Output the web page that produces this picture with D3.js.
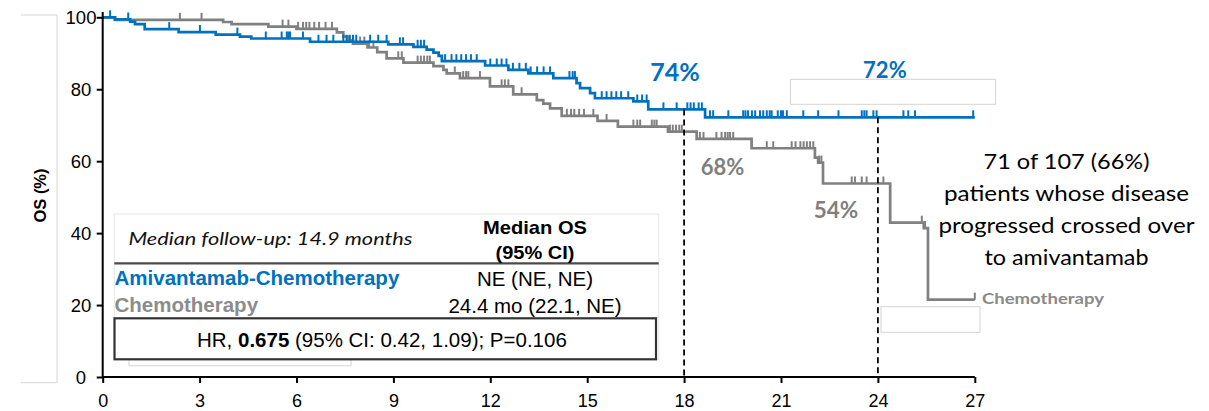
<!DOCTYPE html>
<html>
<head>
<meta charset="utf-8">
<script src="https://cdn.jsdelivr.net/npm/d3@7"></script>
<style>
  html, body { margin: 0; padding: 0; background: #ffffff; }
  svg { display: block; }
</style>
</head>
<body>
<svg id="chart" width="1209" height="411"></svg>
<script>
// ---- Axis ticks ----
const monthTicks = [0, 3, 6, 9, 12, 15, 18, 21, 24, 27];
const osTicks = [0, 20, 40, 60, 80, 100];
const maxMonth = 27;

// ---- Amivantamab-Chemotherapy: KM step times (months) and survival (%) after each step ----
const amiTimes = [0, 0.38, 0.85, 1.0, 1.3, 2.35, 3.5, 4.25, 4.6, 6.42, 8.84, 9.62, 10.03, 10.24, 10.4, 10.5,
  11.84, 12.56, 13.18, 13.95, 14.67, 14.78, 15.09, 15.24, 16.43, 16.89, 18.65];
const amiSurv = [100, 99.4, 98.8, 98.1, 96.7, 95.9, 95.2, 94.6, 94.1, 93.2, 92.5, 91.8, 91.0, 90.2, 89.3, 87.8,
  86.6, 85.4, 84.4, 83.1, 81.7, 80.3, 78.9, 77.5, 76.6, 74.4, 72.2];
// censored patients (months)
const amiCensor = [0.23, 0.79, 2.06, 3.01, 4.17, 5.05, 5.54, 5.7, 5.75, 5.8, 6.2, 6.68, 6.93, 7.14, 7.45, 7.55,
  7.65, 7.75, 7.85, 8.28, 8.53, 8.79, 9.2, 9.3, 9.75, 9.85, 9.95, 10.6, 10.8, 10.95, 11.1, 11.25, 11.4, 11.58,
  12.0, 12.2, 12.35, 12.5, 12.7, 12.9, 13.1, 13.25, 13.45, 13.65, 13.85, 14.45, 14.55, 14.62, 15.45, 15.6,
  15.75, 15.9, 16.05, 16.27, 16.55, 16.7, 16.84, 17.36, 17.77, 18.1, 18.2, 18.3, 18.45, 18.55, 18.8, 18.9,
  19.37, 19.83, 19.9, 19.98, 20.1, 20.2, 20.35, 20.45, 20.56, 20.65, 20.71, 20.9, 21.0, 21.06, 21.18, 21.69,
  22.15, 22.78, 23.5, 23.58, 23.65, 23.86, 23.96, 24.79, 24.94, 25.15, 26.95];

// ---- Chemotherapy ----
const chemoTimes = [0, 0.38, 3.73, 3.99, 5.13, 6.0, 7.25, 7.45, 7.6, 7.75, 8.2, 8.5, 8.79, 9.31, 10.24, 10.55,
  10.65, 11.06, 11.99, 12.71, 13.44, 13.64, 13.85, 14.21, 15.32, 15.95, 17.5, 18.39, 20.09, 22.05, 22.15, 22.3,
  24.38, 25.42, 25.55];
const chemoSurv = [100, 99.3, 98.7, 98.1, 97.4, 96.8, 95.8, 94.6, 93.6, 92.7, 91.6, 90.3, 88.6, 87.4, 86.4, 85.4,
  84.4, 83.1, 80.8, 78.6, 77.0, 76.0, 74.7, 72.6, 71.2, 69.6, 68.2, 66.2, 63.6, 61.0, 59.6, 53.8,
  42.9, 41.4, 21.5];
const chemoCensor = [2.39, 3.06, 5.57, 5.75, 6.05, 6.2, 6.3, 6.4, 6.55, 6.7, 6.9, 7.1, 7.97, 8.1, 8.25, 8.38,
  9.15, 9.26, 9.75, 9.85, 9.95, 10.05, 10.13, 10.9, 11.16, 11.25, 11.32, 11.68, 12.35, 12.45, 12.56, 12.97,
  14.37, 14.5, 14.6, 14.75, 14.9, 15.19, 15.6, 16.43, 16.55, 16.64, 17.0, 17.08, 17.15, 17.56, 17.65, 17.75,
  17.85, 17.93, 18.49, 18.6, 19.0, 19.16, 19.27, 19.35, 19.42, 19.52, 20.56, 20.76, 21.33, 21.45, 21.6, 21.7,
  21.8, 21.9, 22.0, 22.18, 22.25, 23.19, 23.29, 23.5, 23.65, 24.17, 25.36, 25.46, 27.0];

// ---- Landmarks and text ----
const landmarkMonths = [18, 24];
const armNames = ["Amivantamab-Chemotherapy", "Chemotherapy"];
const medianOS = ["NE (NE, NE)", "24.4 mo (22.1, NE)"];
const followUpText = "Median follow-up: 14.9 months";
const medianHeader = ["Median OS", "(95% CI)"];
const hrParts = ["HR, ", "0.675", " (95% CI: 0.42, 1.09); P=0.106"];
const crossoverNote = ["71 of 107 (66%)", "patients whose disease", "progressed crossed over", "to amivantamab"];
const yTitle = "OS (%)";
const endLabel = "Chemotherapy";

const BLUE = "#0070c0";
const GRAY = "#808080";
const ARIAL = "'Liberation Sans', Arial, sans-serif";
const HUMANIST = "Lato, 'Open Sans', sans-serif";

const svg = d3.select("#chart");

const x = d3.scaleLinear().domain([0, maxMonth]).range([102.7, 974.8]);
const y = d3.scaleLinear().domain([0, 100]).range([377, 17.3]);

function survivalAt(times, surv, t) {
  let v = surv[0];
  for (let i = 0; i < times.length; i++) if (times[i] <= t) v = surv[i];
  return v;
}

// faint leftover frames
const faint = svg.append("g").attr("fill", "none").attr("stroke", "#d4d4d4").attr("stroke-width", 1);
faint.append("path").attr("d", "M21,15H57V382.7H21");
faint.append("rect").attr("x", 790.5).attr("y", 79.3).attr("width", 205).attr("height", 25);
faint.append("rect").attr("x", 881).attr("y", 306.7).attr("width", 99).attr("height", 25.6);
faint.append("rect").attr("x", 129).attr("y", 330).attr("width", 222).attr("height", 35.7);

// ---- KM curves ----
const stepLine = d3.line().x(d => x(d[0])).y(d => y(d[1])).curve(d3.curveStepAfter);

function drawArm(times, surv, censor, color) {
  const pts = times.map((t, i) => [t, surv[i]]);
  pts.push([maxMonth, surv[surv.length - 1]]);
  const g = svg.append("g");
  g.append("path")
    .attr("d", stepLine(pts))
    .attr("fill", "none")
    .attr("stroke", color)
    .attr("stroke-width", 2.7)
    .attr("stroke-linejoin", "miter");
  g.selectAll("line.censor").data(censor).join("line")
    .attr("class", "censor")
    .attr("x1", d => x(d)).attr("x2", d => x(d))
    .attr("y1", d => y(survivalAt(times, surv, d)))
    .attr("y2", d => y(survivalAt(times, surv, d)) - 7)
    .attr("stroke", color)
    .attr("stroke-width", 2);
}

drawArm(chemoTimes, chemoSurv, chemoCensor, GRAY);
drawArm(amiTimes, amiSurv, amiCensor, BLUE);

// ---- landmark dashed lines ----
svg.append("g").selectAll("line").data(landmarkMonths).join("line")
  .attr("x1", d => x(d)).attr("x2", d => x(d))
  .attr("y1", d => y(survivalAt(amiTimes, amiSurv, d)))
  .attr("y2", y(0))
  .attr("stroke", "#000")
  .attr("stroke-width", 1.8)
  .attr("stroke-dasharray", "6,4");

// ---- axes ----
const gx = svg.append("g")
  .attr("transform", `translate(0,${y(0)})`)
  .call(d3.axisBottom(x).tickValues(monthTicks).tickSize(6).tickSizeOuter(0));
gx.select(".domain").remove();
gx.selectAll(".tick line").attr("stroke", "#000").attr("stroke-width", 2);
gx.selectAll(".tick text")
  .attr("y", 29.7).attr("dy", null)
  .attr("fill", "#000")
  .style("font-family", ARIAL).style("font-size", "18px");

const gy = svg.append("g")
  .attr("transform", `translate(${x(0)},0)`)
  .call(d3.axisLeft(y).tickValues(osTicks).tickSize(6).tickSizeOuter(0));
gy.select(".domain").remove();
gy.selectAll(".tick line").attr("stroke", "#000").attr("stroke-width", 2);
gy.selectAll(".tick text")
  .attr("x", 81 - x(0)).attr("dy", "0.36em")
  .attr("text-anchor", "middle")
  .attr("fill", "#000")
  .style("font-family", ARIAL).style("font-size", "18.5px");

svg.append("line").attr("x1", x(0)).attr("x2", x(maxMonth)).attr("y1", y(0)).attr("y2", y(0))
  .attr("stroke", "#000").attr("stroke-width", 2);
svg.append("line").attr("x1", x(0)).attr("x2", x(0)).attr("y1", y(0) + 1).attr("y2", 12)
  .attr("stroke", "#000").attr("stroke-width", 2);

svg.append("text")
  .attr("transform", "translate(45.5,195.5) rotate(-90)")
  .attr("text-anchor", "middle")
  .style("font-family", ARIAL).style("font-size", "16.5px").style("font-weight", "bold")
  .text(yTitle);

// ---- landmark percentages ----
const pct = (times, surv, m) => Math.round(survivalAt(times, surv, m)) + "%";
const pctLabels = [
  { t: pct(amiTimes, amiSurv, 18), cx: x(18) - 9, by: 81, size: 25, color: BLUE },
  { t: pct(amiTimes, amiSurv, 24), cx: x(24) + 7, by: 78.3, size: 22, color: BLUE },
  { t: pct(chemoTimes, chemoSurv, 18), cx: x(18) + 38.4, by: 175, size: 22, color: "#7f7f7f" },
  { t: pct(chemoTimes, chemoSurv, 24), cx: x(24) - 42, by: 218.3, size: 22.5, color: "#7f7f7f" }
];
svg.append("g").selectAll("text").data(pctLabels).join("text")
  .attr("x", d => d.cx).attr("y", d => d.by)
  .attr("text-anchor", "middle")
  .attr("fill", d => d.color)
  .style("font-family", HUMANIST).style("font-weight", "bold")
  .style("font-size", d => d.size + "px")
  .text(d => d.t);

// end-of-curve label
svg.append("text")
  .attr("x", 982).attr("y", 304)
  .attr("fill", "#8a8a8a")
  .attr("textLength", 122).attr("lengthAdjust", "spacingAndGlyphs")
  .style("font-family", HUMANIST).style("font-weight", "bold").style("font-size", "16px")
  .text(endLabel);

// crossover note
const noteWidths = [166, 245, 256, 164];
svg.append("g").selectAll("text").data(crossoverNote).join("text")
  .attr("x", 1066.5).attr("y", (d, i) => 169.3 + i * 32)
  .attr("text-anchor", "middle")
  .attr("fill", "#000")
  .attr("textLength", (d, i) => noteWidths[i]).attr("lengthAdjust", "spacingAndGlyphs")
  .style("font-family", HUMANIST).style("font-size", "21px")
  .text(d => d);

// ---- summary table ----
const tbl = svg.append("g");
tbl.append("rect").attr("x", 114.3).attr("y", 214).attr("width", 544.4).attr("height", 145.3)
  .attr("fill", "#fff").attr("stroke", "#e6e6e6").attr("stroke-width", 1);
tbl.append("line").attr("x1", 114.3).attr("x2", 658.7).attr("y1", 263.3).attr("y2", 263.3)
  .attr("stroke", "#4a4a4a").attr("stroke-width", 2.2);
tbl.append("rect").attr("x", 114.5).attr("y", 318.3).attr("width", 541.5).attr("height", 41)
  .attr("fill", "#fff").attr("stroke", "#333").attr("stroke-width", 2.2);

tbl.append("text")
  .attr("x", 128.4).attr("y", 245)
  .attr("fill", "#111")
  .attr("textLength", 284).attr("lengthAdjust", "spacingAndGlyphs")
  .style("font-family", HUMANIST).style("font-style", "italic").style("font-size", "18px")
  .text(followUpText);

const colCenter = 535;
tbl.selectAll("text.hdr").data(medianHeader).join("text")
  .attr("class", "hdr")
  .attr("x", colCenter).attr("y", (d, i) => 234 + i * 24.5)
  .attr("text-anchor", "middle")
  .attr("fill", "#000")
  .attr("textLength", (d, i) => i === 0 ? 104 : 79).attr("lengthAdjust", "spacingAndGlyphs")
  .style("font-family", ARIAL).style("font-weight", "bold").style("font-size", "18.5px")
  .text(d => d);

const armColors = [BLUE, "#8c8c8c"];
tbl.selectAll("text.arm").data(armNames).join("text")
  .attr("class", "arm")
  .attr("x", 114.5).attr("y", (d, i) => 285 + i * 26.7)
  .attr("fill", (d, i) => armColors[i])
  .style("font-family", ARIAL).style("font-weight", "bold").style("font-size", "20.5px")
  .text(d => d);

tbl.selectAll("text.med").data(medianOS).join("text")
  .attr("class", "med")
  .attr("x", colCenter).attr("y", (d, i) => 286 + i * 26.5)
  .attr("text-anchor", "middle")
  .attr("fill", "#000")
  .style("font-family", ARIAL).style("font-size", "20.5px")
  .text(d => d);

const hr = tbl.append("text")
  .attr("x", 197).attr("y", 346.7)
  .attr("fill", "#000")
  .style("font-family", ARIAL).style("font-size", "20.5px");
hrParts.forEach((p, i) => {
  hr.append("tspan").style("font-weight", i === 1 ? "bold" : "normal").text(p);
});
</script>
</body>
</html>
